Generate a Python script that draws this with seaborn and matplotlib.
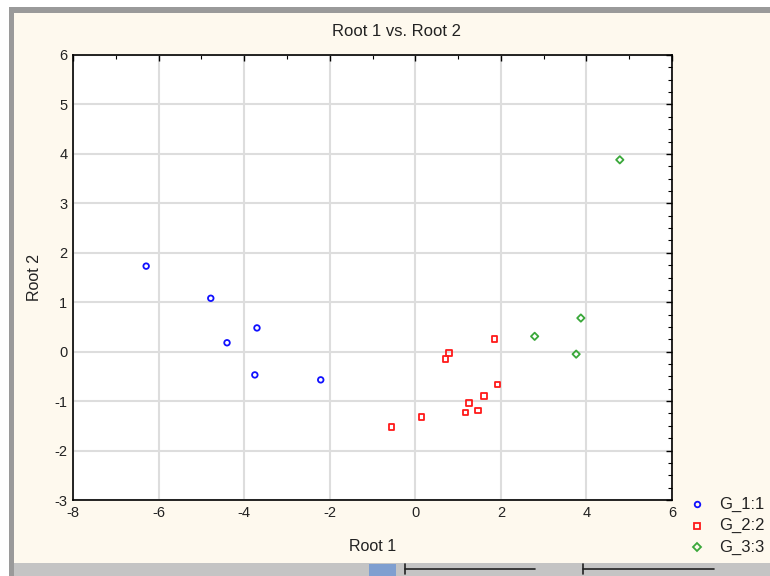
import matplotlib
matplotlib.use("Agg")
from matplotlib import pyplot as plt
from matplotlib.patches import Rectangle
from matplotlib.ticker import MultipleLocator
import seaborn as sns
import pandas as pd

# canonical scores
g1_root1 = [-6.29, -4.78, -4.40, -3.70, -3.75, -2.21]
g1_root2 = [1.73, 1.08, 0.18, 0.48, -0.47, -0.57]

g2_root1 = [-0.56, 0.15, 0.71, 0.79, 1.85, 1.92, 1.60, 1.25, 1.17, 1.46]
g2_root2 = [-1.52, -1.32, -0.15, -0.03, 0.26, -0.66, -0.90, -1.04, -1.23, -1.19]

g3_root1 = [2.79, 3.76, 3.87, 4.78]
g3_root2 = [0.31, -0.05, 0.68, 3.88]

group_names = ['G_1:1', 'G_2:2', 'G_3:3']
group_colors = ['#1010ff', '#ff1a1a', '#3aa83a']
group_markers = ['o', 's', 'D']

groups = [
    pd.DataFrame({'Root 1': g1_root1, 'Root 2': g1_root2}),
    pd.DataFrame({'Root 1': g2_root1, 'Root 2': g2_root2}),
    pd.DataFrame({'Root 1': g3_root1, 'Root 2': g3_root2}),
]

sns.set_style('white')
plt.rcParams['font.family'] = ['Liberation Sans', 'DejaVu Sans']
plt.rcParams['axes.unicode_minus'] = False

cream = '#fef9ee'
fig = plt.figure(figsize=(7.7, 5.76), dpi=100, facecolor='white')

# window frame around the graph
fig.patches.append(Rectangle((14 / 770, 0), 1, (576 - 13) / 576, transform=fig.transFigure,
                             facecolor=cream, edgecolor='none', zorder=-10))
fig.patches.append(Rectangle((9 / 770, 0), 5 / 770, (576 - 7) / 576, transform=fig.transFigure,
                             facecolor='#9a9a9a', edgecolor='none', zorder=-9))
fig.patches.append(Rectangle((9 / 770, (576 - 13) / 576), 1, 6 / 576, transform=fig.transFigure,
                             facecolor='#9a9a9a', edgecolor='none', zorder=-9))
fig.patches.append(Rectangle((14 / 770, 0), 1, 13 / 576, transform=fig.transFigure,
                             facecolor='#c4c4c4', edgecolor='none', zorder=-8))
# slider bars in the toolbar
for x0, x1 in [(405, 535), (583, 714)]:
    fig.lines.append(plt.Line2D([x0 / 770, x1 / 770], [7 / 576, 7 / 576], transform=fig.transFigure,
                                color='#222222', lw=1.2))
    fig.lines.append(plt.Line2D([x0 / 770, x0 / 770], [2 / 576, 12 / 576], transform=fig.transFigure,
                                color='#222222', lw=1.2))
fig.patches.append(Rectangle((369 / 770, 0), 27 / 770, 12 / 576, transform=fig.transFigure,
                             facecolor='#7f9fd0', edgecolor='none'))

ax = fig.add_axes([73 / 770, 76 / 576, 599 / 770, 445 / 576])
ax.set_facecolor('white')

for d, c, m in zip(groups, group_colors, group_markers):
    sns.scatterplot(data=d, x='Root 1', y='Root 2', marker=m, s=16 if m != 'D' else 14,
                    facecolor='none', edgecolor=c, linewidth=1.3, ax=ax, zorder=3)

ax.set_xlim(-8, 6)
ax.set_ylim(-3, 6)
ax.xaxis.set_major_locator(MultipleLocator(2))
ax.xaxis.set_minor_locator(MultipleLocator(1))
ax.yaxis.set_major_locator(MultipleLocator(1))
ax.yaxis.set_minor_locator(MultipleLocator(0.25))
ax.grid(True, which='major', color='#dddddd', lw=1.5, zorder=0)
ax.set_axisbelow(True)
ax.tick_params(which='both', direction='in', top=True, right=True, colors='black',
               labelsize=10.5, labelcolor='#222222')
ax.tick_params(which='major', length=4, width=1, pad=4)
ax.tick_params(which='minor', length=3, width=0.8)
for sp in ax.spines.values():
    sp.set_visible(True)
    sp.set_color('black')
    sp.set_linewidth(1.2)

ax.set_xlabel('Root 1', fontsize=11.5, labelpad=14, color='#222222')
ax.set_ylabel('Root 2', fontsize=11.5, labelpad=9, color='#222222')
fig.text(397 / 770, 1 - 32 / 576, 'Root 1 vs. Root 2', ha='center', va='center',
         fontsize=12, color='#222222')

# legend outside the plot, bottom right
for i, (name, c, m) in enumerate(zip(group_names, group_colors, group_markers)):
    yy = 1 - (504 + i * 21.5) / 576
    fig.lines.append(plt.Line2D([697 / 770], [yy], transform=fig.transFigure, marker=m,
                                ms=4 if m != 'D' else 3.6, mfc='none', mec=c, mew=1.3, ls='none'))
    fig.text(719 / 770, yy, name, ha='left', va='center', fontsize=12, color='#222222')

fig.savefig('out.png', dpi=100, facecolor=fig.get_facecolor())
